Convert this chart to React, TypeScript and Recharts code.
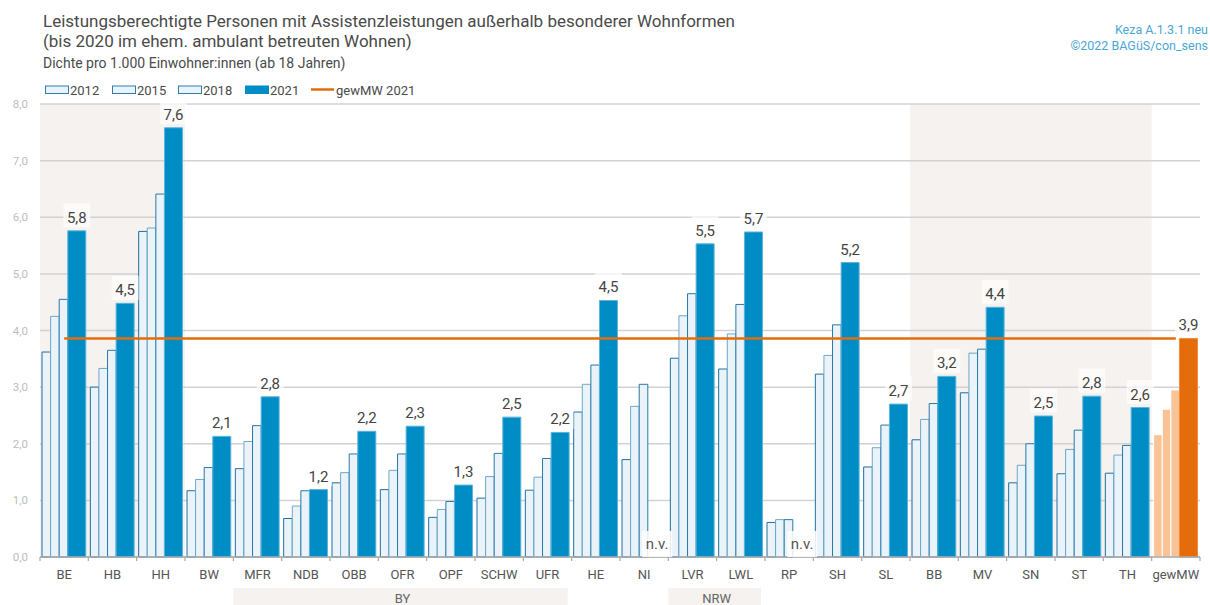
import React from 'react';
import {
  ComposedChart, Bar, Line, XAxis, YAxis, CartesianGrid, ReferenceArea,
  ReferenceDot, LabelList, Cell,
} from 'recharts';

const categories = ['BE', 'HB', 'HH', 'BW', 'MFR', 'NDB', 'OBB', 'OFR', 'OPF', 'SCHW', 'UFR', 'HE', 'NI', 'LVR', 'LWL', 'RP', 'SH', 'SL', 'BB', 'MV', 'SN', 'ST', 'TH', 'gewMW'];
const v2012 = [3.62, 3.0, 5.75, 1.17, 1.56, 0.68, 1.31, 1.19, 0.7, 1.04, 1.18, 2.56, 1.72, 3.51, 3.32, 0.61, 3.23, 1.59, 2.07, 2.9, 1.31, 1.47, 1.48, 2.16];
const v2015 = [4.25, 3.33, 5.81, 1.37, 2.04, 0.9, 1.49, 1.53, 0.84, 1.42, 1.41, 3.05, 2.66, 4.26, 3.94, 0.66, 3.56, 1.93, 2.43, 3.6, 1.62, 1.9, 1.8, 2.61];
const v2018 = [4.55, 3.65, 6.41, 1.58, 2.32, 1.17, 1.82, 1.82, 0.98, 1.83, 1.74, 3.39, 3.05, 4.65, 4.46, 0.66, 4.1, 2.33, 2.71, 3.67, 2.0, 2.24, 1.97, 2.95];
const v2021: (number | null)[] = [5.76, 4.48, 7.58, 2.13, 2.83, 1.19, 2.22, 2.31, 1.27, 2.47, 2.2, 4.53, null, 5.53, 5.74, null, 5.2, 2.7, 3.19, 4.41, 2.49, 2.84, 2.64, 3.86];
const mw2021 = 3.86;
const yTicks = [0, 1, 2, 3, 4, 5, 6, 7, 8];
const shadedRanges = [['BE', 'HH'], ['BB', 'TH']];
const regionGroups = [
  { label: 'BY', from: 'MFR', to: 'UFR' },
  { label: 'NRW', from: 'LVR', to: 'LWL' },
];
const legendItems = ['2012', '2015', '2018', '2021', 'gewMW 2021'];
const titleLines = [
  'Leistungsberechtigte Personen mit Assistenzleistungen außerhalb besonderer Wohnformen',
  '(bis 2020 im ehem. ambulant betreuten Wohnen)',
];
const subtitle = 'Dichte pro 1.000 Einwohner:innen (ab 18 Jahren)';
const sourceLines = ['Keza A.1.3.1 neu', '©2022 BAGüS/con_sens'];

const W = 1210;
const H = 605;
const XAXIS_H = 30;
const MARGIN = { top: 104, right: 10, bottom: 48 - XAXIS_H, left: 0 };
const YAXIS_W = 40;
const BW = (W - MARGIN.right - MARGIN.left - YAXIS_W) / categories.length;
const FONT = 'Roboto, "Liberation Sans", sans-serif';
const LIGHT_FILL = '#eaf3f9';
const BLUE = '#008cc5';
const ORANGE = '#e46c0a';
const PEACH = '#f9c396';
const BEIGE = '#f5f2ef';

const data = categories.map((c, i) => ({
  cat: c,
  y2012: v2012[i],
  y2015: v2015[i],
  y2018: v2018[i],
  y2021: v2021[i],
  mw: mw2021,
}));

const fmt = (v: number) => v.toFixed(1).replace('.', ',');

const ValueLabel = (props: any) => {
  const { x, y, width, value } = props;
  if (value == null || isNaN(Number(y))) return null;
  const cx = Number(x) + Number(width) / 2;
  const top = Number(y);
  return (
    <g>
      <rect x={cx - 13.5} y={top - 27.5} width={27} height={24} fill="#ffffff" fillOpacity={0.7} />
      <text x={cx} y={top - 8} textAnchor="middle" fontSize={15} fill="#444" fontFamily={FONT}>
        {fmt(Number(value))}
      </text>
    </g>
  );
};

const NvShape = (props: any) => {
  const { cx, cy } = props;
  const x = Number(cx) + 13;
  return (
    <g>
      <rect x={x - 15} y={Number(cy) - 26} width={30} height={26} fill="#ffffff" fillOpacity={0.85} />
      <text x={x} y={Number(cy) - 8} textAnchor="middle" fontSize={15} fill="#555" fontFamily={FONT}>n.v.</text>
    </g>
  );
};

const XTick = (props: any) => {
  const { x, y, payload, index } = props;
  const cat = payload.value;
  const group = regionGroups.find((g) => g.from === cat);
  let groupEl = null;
  if (group) {
    const n = categories.indexOf(group.to) - categories.indexOf(group.from) + 1;
    const left = x - BW / 2;
    const w = BW * n - 4;
    groupEl = (
      <g>
        <rect x={left} y={y + 31} width={w} height={30} fill={BEIGE} />
        <text x={left + w / 2 + 2} y={y + 46} textAnchor="middle" fontSize={13} fill="#666" fontFamily={FONT}>
          {group.label}
        </text>
      </g>
    );
  }
  return (
    <g>
      <line x1={x - BW / 2} x2={x - BW / 2} y1={y} y2={y + 4} stroke="#a8a8a8" strokeWidth={1.2} />
      {index === categories.length - 1 && (
        <line x1={x + BW / 2} x2={x + BW / 2} y1={y} y2={y + 4} stroke="#a8a8a8" strokeWidth={1.2} />
      )}
      <text x={x} y={y + 22} textAnchor="middle" fontSize={13} fill="#555" fontFamily={FONT}>{cat}</text>
      {groupEl}
    </g>
  );
};

const isLast = (i: number) => i === categories.length - 1;

export default function App() {
  return (
    <div style={{ position: 'absolute', left: 0, top: 0, width: W, height: H, background: '#fff', fontFamily: FONT }}>
      <ComposedChart width={W} height={H} data={data} margin={MARGIN} barGap={0} barCategoryGap={0}>
        {shadedRanges.map(([a, b]) => (
          <ReferenceArea key={a} x1={a} x2={b} y1={0} y2={8} fill={BEIGE} fillOpacity={1} stroke="none" zIndex={-200} ifOverflow="extendDomain" />
        ))}
        <CartesianGrid vertical={false} stroke="#d2d2d2" strokeWidth={1.5} />
        <YAxis
          width={YAXIS_W}
          domain={[0, 8]}
          ticks={yTicks}
          tickFormatter={fmt}
          axisLine={false}
          tickLine={false}
          tickMargin={6}
          tick={{ fontSize: 11.5, fill: '#bdbdbd', fontFamily: FONT }}
        />
        <XAxis
          dataKey="cat"
          interval={0}
          height={XAXIS_H}
          axisLine={{ stroke: '#a8a8a8', strokeWidth: 1.5 }}
          tickLine={false}
          tickSize={0}
          tickMargin={0}
          tick={<XTick />}
        />
        <Bar dataKey="y2012" barSize={8.6} fill={LIGHT_FILL} stroke="#1f6fa0" strokeWidth={1} isAnimationActive={false}>
          {data.map((d, i) => (
            <Cell key={i} fill={isLast(i) ? PEACH : LIGHT_FILL} stroke={isLast(i) ? '#ffffff' : '#1f6fa0'} />
          ))}
        </Bar>
        <Bar dataKey="y2015" barSize={8.6} fill={LIGHT_FILL} stroke="#6ea8c8" strokeWidth={1} isAnimationActive={false}>
          {data.map((d, i) => (
            <Cell key={i} fill={isLast(i) ? PEACH : LIGHT_FILL} stroke={isLast(i) ? '#ffffff' : '#6ea8c8'} />
          ))}
        </Bar>
        <Bar dataKey="y2018" barSize={8.6} fill={LIGHT_FILL} stroke="#2a78a6" strokeWidth={1} isAnimationActive={false}>
          {data.map((d, i) => (
            <Cell key={i} fill={isLast(i) ? PEACH : LIGHT_FILL} stroke={isLast(i) ? '#ffffff' : '#2a78a6'} />
          ))}
        </Bar>
        <Bar dataKey="y2021" barSize={18} fill={BLUE} stroke="#5cb4dc" strokeWidth={1} isAnimationActive={false}>
          {data.map((d, i) => (
            <Cell key={i} fill={isLast(i) ? ORANGE : BLUE} stroke={isLast(i) ? '#f08a3a' : '#5cb4dc'} />
          ))}
          <LabelList dataKey="y2021" content={<ValueLabel />} />
        </Bar>
        <Line dataKey="mw" stroke={ORANGE} strokeWidth={2.5} dot={false} activeDot={false} isAnimationActive={false} />
        {categories.filter((c, i) => v2021[i] == null).map((c) => (
          <ReferenceDot key={c} x={c} y={0} r={0} shape={<NvShape />} ifOverflow="visible" />
        ))}
      </ComposedChart>
      <svg width={W} height={120} style={{ position: 'absolute', left: 0, top: 0, pointerEvents: 'none' }}>
        <text x={43} y={27} fontSize={17} fill="#4a4a4a" fontFamily={FONT}>{titleLines[0]}</text>
        <text x={43} y={47} fontSize={17} fill="#4a4a4a" fontFamily={FONT}>{titleLines[1]}</text>
        <text x={43} y={68} fontSize={14} fill="#4a4a4a" fontFamily={FONT}>{subtitle}</text>
        <text x={1208} y={34} fontSize={12.5} fill="#4aa6d6" textAnchor="end" fontFamily={FONT}>{sourceLines[0]}</text>
        <text x={1208} y={50} fontSize={12.5} fill="#4aa6d6" textAnchor="end" fontFamily={FONT}>{sourceLines[1]}</text>
        {legendItems.map((label, i) => {
          const xs = [45, 112, 178, 245, 311];
          const x0 = xs[i];
          const isLine = i === 4;
          return (
            <g key={label}>
              {isLine ? (
                <line x1={x0} x2={x0 + 23} y1={89.5} y2={89.5} stroke={ORANGE} strokeWidth={2.5} />
              ) : (
                <rect x={x0 + 0.5} y={86} width={23} height={7.5}
                  fill={i === 3 ? BLUE : LIGHT_FILL} stroke={i === 3 ? BLUE : '#2f7eaa'} strokeWidth={1} />
              )}
              <text x={x0 + 25} y={94.5} fontSize={13} fill="#4a4a4a" fontFamily={FONT}>{label}</text>
            </g>
          );
        })}
      </svg>
    </div>
  );
}
